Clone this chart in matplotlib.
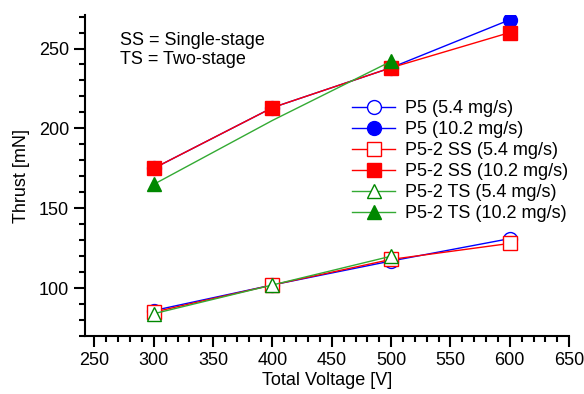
import matplotlib
matplotlib.use("Agg")
import matplotlib.pyplot as plt
from matplotlib.ticker import MultipleLocator

plt.rcParams['font.family'] = ['Liberation Sans', 'DejaVu Sans']

# data
voltage = [300, 400, 500, 600]
voltage_ts = [300, 400, 500]
p5_low = [86, 102, 117, 131]
p5_high = [175, 213, 238, 268]
ss_low = [85, 102, 118, 128]
ss_high = [175, 213, 238, 260]
ts_low = [84, 102, 120]
ts_high = [165, 205, 242]

fig = plt.figure(figsize=(5.84, 3.94), dpi=100)
ax = fig.add_axes([0.1455, 0.147, 0.829, 0.815])

green_line = '#33aa33'
green_fill = '#008800'

ax.plot(voltage, p5_low, color='blue', lw=1, marker='o', ms=10, mfc='white', mec='blue', label='P5 (5.4 mg/s)')
ax.plot(voltage, p5_high, color='blue', lw=1, marker='o', ms=10, mfc='blue', mec='blue', label='P5 (10.2 mg/s)')
ax.plot(voltage, ss_low, color='red', lw=1, marker='s', ms=10, mfc='white', mec='red', label='P5-2 SS (5.4 mg/s)')
ax.plot(voltage, ss_high, color='red', lw=1, marker='s', ms=10, mfc='red', mec='red', label='P5-2 SS (10.2 mg/s)')
ax.plot(voltage_ts, ts_low, color=green_line, lw=1, marker='^', ms=10, mfc='white', mec=green_fill, label='P5-2 TS (5.4 mg/s)')
# the two-stage high-flow curve has no marker at 400 V in the reference
ax.plot(voltage_ts, ts_high, color=green_line, lw=1, marker='^', ms=10, mfc=green_fill, mec=green_fill,
        markevery=[0, 2], label='P5-2 TS (10.2 mg/s)')

ax.set_xlim(242, 650)
ax.set_ylim(70, 271)
ax.xaxis.set_major_locator(MultipleLocator(50))
ax.xaxis.set_minor_locator(MultipleLocator(10))
ax.yaxis.set_major_locator(MultipleLocator(50))
ax.yaxis.set_minor_locator(MultipleLocator(10))
ax.set_yticks([100, 150, 200, 250])

for side in ['top', 'right']:
    ax.spines[side].set_visible(False)
ax.spines['left'].set_linewidth(1.5)
ax.spines['bottom'].set_linewidth(1.5)
ax.tick_params(which='major', direction='out', length=8, width=1.5, labelsize=13)
ax.tick_params(which='minor', direction='out', length=4.5, width=1.5)

ax.set_xlabel('Total Voltage [V]', fontsize=13, labelpad=2)
ax.set_ylabel('Thrust [mN]', fontsize=13, labelpad=6)

ax.text(0.072, 0.948, 'SS = Single-stage\nTS = Two-stage', transform=ax.transAxes,
        fontsize=13, va='top', linespacing=1.2)

ax.legend(loc='upper left', bbox_to_anchor=(0.603, 0.745), bbox_transform=fig.transFigure,
          frameon=False, fontsize=13, handlelength=2.4, labelspacing=0.22, handletextpad=0.55,
          borderaxespad=0, borderpad=0)

fig.savefig('out.png', dpi=100)
